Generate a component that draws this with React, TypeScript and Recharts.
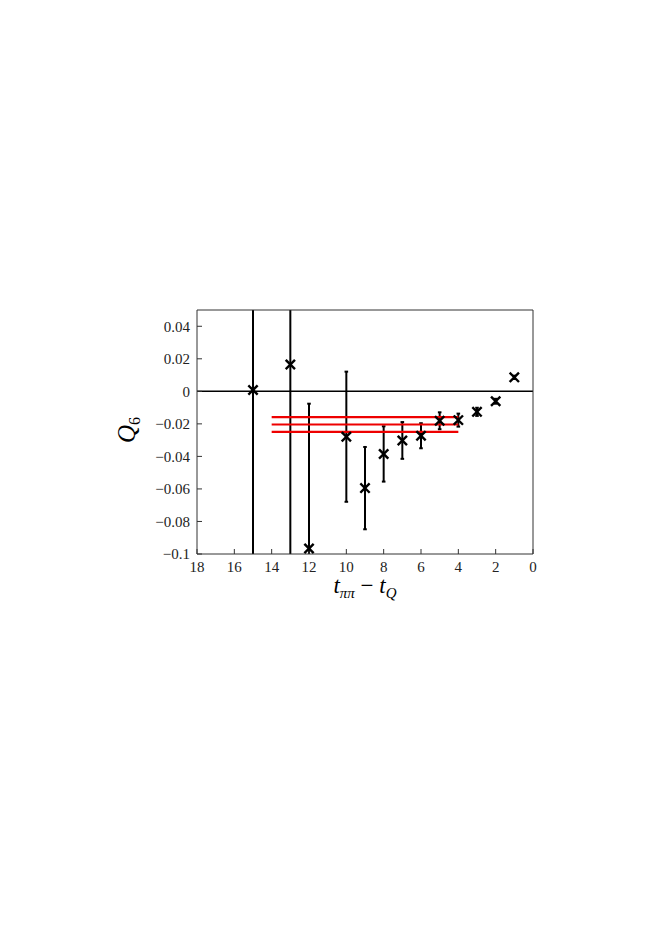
import {
  ScatterChart,
  Scatter,
  XAxis,
  YAxis,
  ReferenceLine,
  Label,
} from "recharts";

// t_pipi - t_Q separations and the measured Q6 values with their errors
const separations = [15, 13, 12, 10, 9, 8, 7, 6, 5, 4, 3, 2, 1];
const q6Values = [0.0008, 0.0165, -0.0966, -0.0279, -0.0595, -0.0385, -0.0302, -0.0273, -0.0181, -0.0177, -0.0126, -0.0061, 0.0086];
const q6Errors = [0.2, 0.2, 0.089, 0.04, 0.0253, 0.017, 0.0113, 0.0077, 0.0052, 0.004, 0.0025, 0.0015, 0.001];

// fitted plateau (central value +- error) over the fit window
const fitWindow = [14, 4];
const fitCentral = -0.0204;
const fitError = 0.0045;

const xTicks = [0, 2, 4, 6, 8, 10, 12, 14, 16, 18];
const yTicks = [-0.1, -0.08, -0.06, -0.04, -0.02, 0, 0.02, 0.04];

const points = separations.map((x, i) => ({ x, y: q6Values[i], err: q6Errors[i] }));
const fitLevels = [fitCentral + fitError, fitCentral, fitCentral - fitError];

const FONT = "'Liberation Serif', 'DejaVu Serif', serif";
const AXIS_COLOR = "#333";
const TICK = { fontSize: 15, fill: "#222", fontFamily: FONT };

const fmtY = (v: number) => (v < 0 ? "\u2212" + String(Math.abs(v)) : String(v));

const Cross = (props: any) => {
  const { cx, cy } = props;
  if (cx == null || cy == null) return null;
  const s = 3.8;
  return (
    <g stroke="#000" strokeWidth={2.4} strokeLinecap="square">
      <line x1={cx - s} y1={cy - s} x2={cx + s} y2={cy + s} />
      <line x1={cx - s} y1={cy + s} x2={cx + s} y2={cy - s} />
    </g>
  );
};

// vertical error bar with small caps; clipPath comes from ifOverflow="hidden"
const ErrBar = (props: any) => {
  const { x1, y1, x2, y2, clipPath } = props;
  const c = 1.8;
  return (
    <g stroke="#000" strokeWidth={2} clipPath={clipPath}>
      <line x1={x1} y1={y1} x2={x2} y2={y2} />
      <line x1={x1 - c} y1={y1} x2={x1 + c} y2={y1} />
      <line x1={x2 - c} y1={y2} x2={x2 + c} y2={y2} />
    </g>
  );
};

const XLabel = (props: any) => {
  const vb = props.viewBox;
  return (
    <text
      x={vb.x + vb.width / 2}
      y={vb.y + 39}
      textAnchor="middle"
      fontFamily={FONT}
      fontSize={23}
      fill="#000"
    >
      <tspan fontStyle="italic">t</tspan>
      <tspan fontStyle="italic" fontSize={15} dy={5}>ππ</tspan>
      <tspan dy={-5}> − </tspan>
      <tspan fontStyle="italic">t</tspan>
      <tspan fontStyle="italic" fontSize={15} dy={5}>Q</tspan>
    </text>
  );
};

const YLabel = (props: any) => {
  const vb = props.viewBox;
  const x = vb.x - 2;
  const y = vb.y + 120;
  return (
    <text
      x={x}
      y={y}
      transform={`rotate(-90 ${x} ${y})`}
      textAnchor="middle"
      fontFamily={FONT}
      fontSize={25}
      fill="#000"
    >
      <tspan fontStyle="italic">Q</tspan>
      <tspan fontSize={16} dy={5}>6</tspan>
    </text>
  );
};

export default function App() {
  return (
    <div style={{ position: "absolute", left: 0, top: 0, width: 665, height: 940, background: "#fff" }}>
      <ScatterChart
        width={665}
        height={940}
        margin={{ top: 310, right: 132, left: 137, bottom: 356 }}
      >
        <XAxis
          type="number"
          dataKey="x"
          domain={[0, 18]}
          ticks={xTicks}
          reversed
          height={30}
          tickSize={-5}
          tickMargin={12}
          stroke={AXIS_COLOR}
          tick={TICK}
          label={<Label content={XLabel} />}
        />
        <XAxis
          xAxisId="top"
          type="number"
          orientation="top"
          domain={[0, 18]}
          ticks={xTicks}
          reversed
          mirror
          tick={false}
          tickSize={5}
          stroke={AXIS_COLOR}
        />
        <YAxis
          type="number"
          dataKey="y"
          domain={[-0.1, 0.05]}
          ticks={yTicks}
          allowDataOverflow
          width={60}
          tickSize={-5}
          tickMargin={12}
          stroke={AXIS_COLOR}
          tick={TICK}
          tickFormatter={fmtY}
          label={<Label content={YLabel} />}
        />
        <YAxis
          yAxisId="right"
          type="number"
          orientation="right"
          domain={[-0.1, 0.05]}
          ticks={yTicks}
          allowDataOverflow
          mirror
          tick={false}
          tickSize={5}
          stroke={AXIS_COLOR}
        />
        <ReferenceLine y={0} stroke="#000" strokeWidth={1.5} />
        {points.map((p, i) => (
          <ReferenceLine
            key={"e" + i}
            segment={[
              { x: p.x, y: p.y - p.err },
              { x: p.x, y: p.y + p.err },
            ]}
            ifOverflow="hidden"
            shape={ErrBar}
          />
        ))}
        {fitLevels.map((lvl, i) => (
          <ReferenceLine
            key={"f" + i}
            segment={[
              { x: fitWindow[0], y: lvl },
              { x: fitWindow[1], y: lvl },
            ]}
            stroke="#ee0000"
            strokeWidth={2.2}
          />
        ))}
        <Scatter data={points} shape={<Cross />} isAnimationActive={false} />
      </ScatterChart>
    </div>
  );
}
